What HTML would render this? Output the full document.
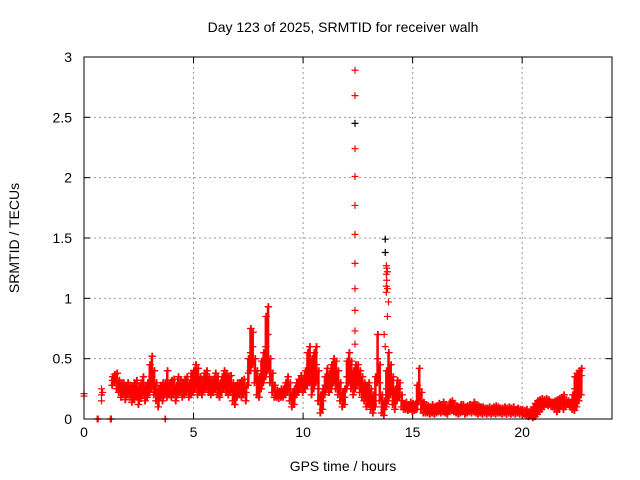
<!DOCTYPE html>
<html><head><meta charset="utf-8"><style>
body{margin:0;background:#fff}
svg{display:block;font-family:"Liberation Sans",sans-serif}
</style></head><body>
<svg id="chart" width="640" height="480" xmlns="http://www.w3.org/2000/svg">
<text x="343" y="32" text-anchor="middle" font-size="14">Day 123 of 2025, SRMTID for receiver walh</text>
<text x="343" y="471" text-anchor="middle" font-size="14">GPS time / hours</text>
<text transform="translate(19,238) rotate(-90)" text-anchor="middle" font-size="14">SRMTID / TECUs</text>
<g id="grid"></g>
<g id="ticks"></g>
<g id="marks"></g>
<rect x="84" y="57" width="528" height="362" fill="none" stroke="#000"/>
</svg>
<script>
const xTicks=[0,5,10,15,20];
const yTicks=[0,0.5,1,1.5,2,2.5,3];
const yTickLabels=["0","0.5","1","1.5","2","2.5","3"];
const baseStart=1.3, baseStep=0.1;
const sLo=[.28,.30,.25,.22,.18,.20,.16,.20,.18,.14,.16,.18,.12,.17,.20,.15,.18,.22,.25,.20,.15,.10,.18,.15,.20,.18,.20,.18,.20,.15,.20,.22,.18,.20,.22,.18,.20,.22,.25,.20,.22,.20,.24,.25,.22,.20,.22,.24,.20,.18,.22,.25,.22,.20,.22,.15,.12,.18,.20,.18,.20,.15,.28,.40,.45,.30,.20,.18,.25,.30,.35,.40,.30,.22,.18,.18,.17,.18,.18,.20,.22,.15,.10,.12,.20,.22,.25,.22,.25,.28,.30,.20,.25,.30,.15,.05,.08,.20,.25,.22,.25,.30,.25,.20,.15,.10,.12,.25,.30,.25,.20,.25,.28,.22,.18,.15,.10,.12,.08,.05,.10,.30,.15,.05,.03,.10,.15,.20,.12,.08,.15,.18,.10,.08,.08,.07,.08,.06,.07,.08,.15,.08,.05,.05,.05,.04,.05,.04,.05,.06,.05,.06,.05,.04,.06,.07,.06,.05,.04,.05,.06,.04,.05,.06,.05,.06,.05,.04,.05,.04,.05,.04,.05,.04,.05,.04,.05,.05,.04,.05,.04,.05,.04,.05,.04,.05,.04,.05,.04,.03,.02,.03,.01,.02,.04,.06,.08,.10,.12,.11,.12,.10,.08,.06,.08,.10,.08,.10,.12,.10,.08,.07,.10,.15,.20,.30,.32];
const sMid=[.32,.33,.30,.27,.24,.26,.22,.25,.22,.20,.22,.24,.20,.23,.26,.22,.25,.30,.35,.28,.22,.18,.23,.22,.25,.28,.25,.24,.27,.22,.27,.28,.25,.26,.28,.25,.28,.30,.33,.30,.28,.26,.30,.32,.28,.26,.27,.30,.26,.24,.28,.32,.30,.26,.28,.22,.20,.24,.25,.24,.26,.22,.38,.55,.60,.40,.30,.25,.35,.45,.60,.70,.40,.30,.22,.20,.20,.21,.22,.24,.28,.22,.16,.18,.25,.28,.30,.28,.32,.40,.45,.35,.40,.45,.25,.12,.15,.28,.32,.30,.35,.40,.35,.28,.22,.15,.18,.35,.42,.38,.30,.35,.38,.30,.28,.22,.18,.20,.15,.12,.20,.50,.30,.10,.08,.25,.30,.30,.25,.15,.22,.25,.15,.10,.11,.10,.11,.10,.10,.12,.25,.15,.10,.08,.08,.07,.08,.07,.08,.09,.08,.10,.09,.07,.10,.11,.09,.08,.07,.08,.09,.07,.08,.09,.08,.10,.08,.07,.08,.07,.07,.06,.07,.06,.07,.08,.07,.07,.06,.07,.06,.07,.06,.07,.06,.06,.06,.05,.04,.05,.03,.04,.07,.10,.12,.13,.14,.14,.14,.13,.11,.10,.11,.13,.12,.14,.15,.13,.12,.11,.15,.25,.30,.35,.36];
const sHi=[.35,.37,.38,.32,.30,.30,.28,.30,.28,.27,.30,.32,.27,.30,.35,.28,.30,.45,.52,.40,.30,.25,.28,.30,.30,.40,.30,.32,.33,.28,.35,.32,.30,.33,.35,.30,.38,.40,.45,.42,.35,.33,.38,.40,.35,.32,.33,.38,.35,.30,.35,.40,.38,.35,.36,.30,.27,.30,.30,.32,.33,.28,.50,.75,.72,.50,.40,.35,.48,.55,.85,.93,.50,.38,.28,.24,.23,.25,.25,.30,.35,.30,.22,.25,.30,.33,.36,.34,.40,.55,.60,.50,.55,.60,.40,.20,.25,.35,.42,.38,.45,.50,.48,.40,.30,.22,.25,.48,.55,.48,.40,.45,.45,.40,.35,.30,.28,.30,.25,.20,.35,.70,.45,.20,.15,.40,.55,.45,.35,.25,.32,.30,.20,.13,.14,.12,.14,.13,.12,.28,.42,.22,.14,.12,.11,.10,.12,.10,.11,.13,.12,.14,.12,.10,.14,.15,.13,.11,.10,.12,.12,.10,.11,.12,.11,.14,.12,.11,.10,.10,.09,.09,.10,.09,.10,.11,.10,.09,.09,.10,.09,.10,.09,.10,.08,.09,.08,.08,.07,.08,.06,.07,.10,.13,.15,.16,.17,.16,.17,.16,.14,.14,.15,.16,.17,.18,.20,.16,.15,.14,.20,.35,.38,.40,.42];
const exTimes=[0,0,0.6,0.65,1.2,1.25,0.8,0.8,0.8,0.85,3.7,3.72,12.37,12.37,12.37,12.37,12.37,12.37,12.37,12.37,12.37,12.37,13.8,13.82,13.85,13.8,13.82,13.8,13.85,13.8,13.9,13.85,13.7,13.75];
const exVals=[.21,.19,0,0,0,0,.15,.20,.25,.22,0,0,.62,.73,.90,1.08,1.29,1.53,1.77,2.01,2.24,2.68,1.27,1.25,1.22,1.20,1.15,1.10,1.08,1.05,.97,.85,.70,.60];
const exBlackTimes=[12.37,13.75,13.75];
const exBlackVals=[2.45,1.49,1.38];
const spikeTop=[2.89];
const spikeTopTime=[12.37];

const X0=84,X1=612,Y0=419,Y1=57,XMAX=24.1,YMAX=3;
const xs=v=>X0+v/XMAX*(X1-X0);
const ys=v=>Y0-v/YMAX*(Y0-Y1);
const NS="http://www.w3.org/2000/svg";
const grid=document.getElementById('grid'),ticks=document.getElementById('ticks'),marks=document.getElementById('marks');
function line(p,x1,y1,x2,y2,st,dash){const l=document.createElementNS(NS,'line');l.setAttribute('x1',x1);l.setAttribute('y1',y1);l.setAttribute('x2',x2);l.setAttribute('y2',y2);l.setAttribute('stroke',st);if(dash)l.setAttribute('stroke-dasharray',dash);p.appendChild(l);return l;}
function txt(p,x,y,s,anchor){const t=document.createElementNS(NS,'text');t.setAttribute('x',x);t.setAttribute('y',y);t.setAttribute('font-size','14');t.setAttribute('text-anchor',anchor);t.textContent=s;p.appendChild(t);return t;}
xTicks.forEach(v=>{const x=xs(v);
 if(v>0){const g=line(grid,x,Y1,x,Y0,'#999','2,3');}
 const a=line(ticks,x,Y0,x,Y0-6,'#000');
 const b=line(ticks,x,Y1,x,Y1+6,'#000');
 const t=txt(ticks,x,Y0+18,String(v),'middle');});
yTicks.forEach((v,i)=>{const y=ys(v);
 if(v>0&&v<YMAX){const g=line(grid,X0,y,X1,y,'#999','2,3');}
 const a=line(ticks,X0,y,X0+6,y,'#000');
 const b=line(ticks,X1,y,X1-6,y,'#000');
 const t=txt(ticks,72,y+5,yTickLabels[i],'end');});
function plus(t,v,col){const x=xs(t),y=ys(v);const p=document.createElementNS(NS,'path');
 p.setAttribute('d',`M${x-3.5},${y}h7M${x},${y-3.5}v7`);p.setAttribute('stroke',col);p.setAttribute('stroke-width','1.2');p.setAttribute('fill','none');
 
 
 marks.appendChild(p);}
exBlackTimes.forEach((t,i)=>plus(t,exBlackVals[i],'#000'));
const nB=Math.min(sLo.length,sMid.length,sHi.length);
for(let i=0;i<nB;i++){const t=baseStart+i*baseStep;const v=sLo[i];
 [-0.03,0,0.03].forEach(d=>{
  const r=line(marks,xs(t+d),ys(v),xs(t+d),ys(sHi[i]),'#f00');
  r.setAttribute('stroke-width','1.2');
  
  
 });
 [v,sMid[i],sHi[i]].forEach((w,k)=>{plus(t,w,'#f00');plus(t+0.03*(k-1),w,'#f00');});
}
exTimes.forEach((t,i)=>plus(t,exVals[i],'#f00'));
spikeTopTime.forEach((t,i)=>plus(t,spikeTop[i],'#f00'));
</script>
</body></html>
